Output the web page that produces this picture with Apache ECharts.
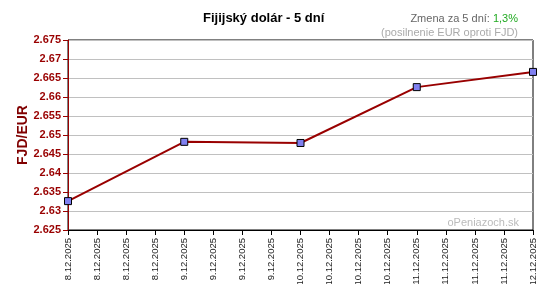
<!DOCTYPE html>
<html><head><meta charset="utf-8">
<script src="https://cdn.jsdelivr.net/npm/echarts@6/dist/echarts.min.js"></script>
<style>html,body{margin:0;padding:0;background:#fff}#c{width:559px;height:284px}</style>
</head><body><div id="c"></div>
<script>
var categories = ['8.12.2025','8.12.2025','8.12.2025','8.12.2025','9.12.2025','9.12.2025','9.12.2025','9.12.2025','10.12.2025','10.12.2025','10.12.2025','10.12.2025','11.12.2025','11.12.2025','11.12.2025','11.12.2025','12.12.2025'];
var pointIndex = [0, 4, 8, 12, 16];
var rates = [2.6326, 2.6482, 2.6479, 2.6626, 2.6666];
var yTicks = [2.625, 2.675, 0.005];

var seriesData = categories.map(function(){ return null; });
pointIndex.forEach(function(idx, i){ seriesData[idx] = rates[i]; });

var chart = echarts.init(document.getElementById('c'), null, {renderer:'canvas'});
var font = 'Liberation Sans, Arial, sans-serif';
chart.setOption({
  animation: false,
  backgroundColor: '#fff',
  textStyle: {fontFamily: font},
  grid: {left: 68, right: 26, top: 40, bottom: 54, containLabel: false, outerBoundsMode: 'none',
    show: true, borderColor: '#000', borderWidth: 1, backgroundColor: '#fff'},
  xAxis: {
    type: 'category', data: categories, boundaryGap: false,
    axisLine: {lineStyle: {color: '#000', width: 1}},
    axisTick: {show: true, length: 5, lineStyle: {color: '#000'}, interval: 0},
    axisLabel: {rotate: 90, interval: 0, fontSize: 9.5, color: '#222', fontFamily: font, margin: 8},
    splitLine: {show: false}
  },
  yAxis: {
    type: 'value', min: yTicks[0], max: yTicks[1], interval: yTicks[2],
    axisLine: {show: true, lineStyle: {color: '#990000', width: 1}},
    axisTick: {show: true, length: 5, lineStyle: {color: '#990000'}},
    axisLabel: {color: '#990000', fontWeight: 'bold', fontSize: 11, fontFamily: font, margin: 7,
      formatter: function(v){ return String(parseFloat(v.toFixed(3))); }},
    splitLine: {show: true, lineStyle: {color: '#c0c0c0', width: 1}}
  },
  series: [{
    type: 'line', data: seriesData, connectNulls: true,
    lineStyle: {color: '#990000', width: 2},
    symbol: 'rect', symbolSize: 7,
    itemStyle: {color: '#8080f0', borderColor: '#000', borderWidth: 1}
  }],
  graphic: [
    {type: 'text', left: 203, top: 12, style: {text: 'Fijijský dolár - 5 dní', font: 'bold 13px ' + font, fill: '#000'}},
    {type: 'text', x: 23, y: 135, rotation: Math.PI / 2, style: {text: 'FJD/EUR', font: 'bold 14px ' + font, fill: '#800000', align: 'center', verticalAlign: 'middle'}},
    {type: 'text', right: 41, top: 13, style: {
      text: '{a|Zmena za 5 dní: }{b|1,3%}',
      rich: {a: {fontSize: 11, fill: '#666', fontFamily: font}, b: {fontSize: 11, fill: '#22aa22', fontFamily: font}}
    }},
    {type: 'text', right: 41, top: 27, style: {text: '(posilnenie EUR oproti FJD)', font: '11px ' + font, fill: '#aaaaaa'}},
    {type: 'text', right: 40, top: 217, style: {text: 'oPeniazoch.sk', font: '11px ' + font, fill: '#bbbbbb'}}
  ]
});
</script></body></html>
